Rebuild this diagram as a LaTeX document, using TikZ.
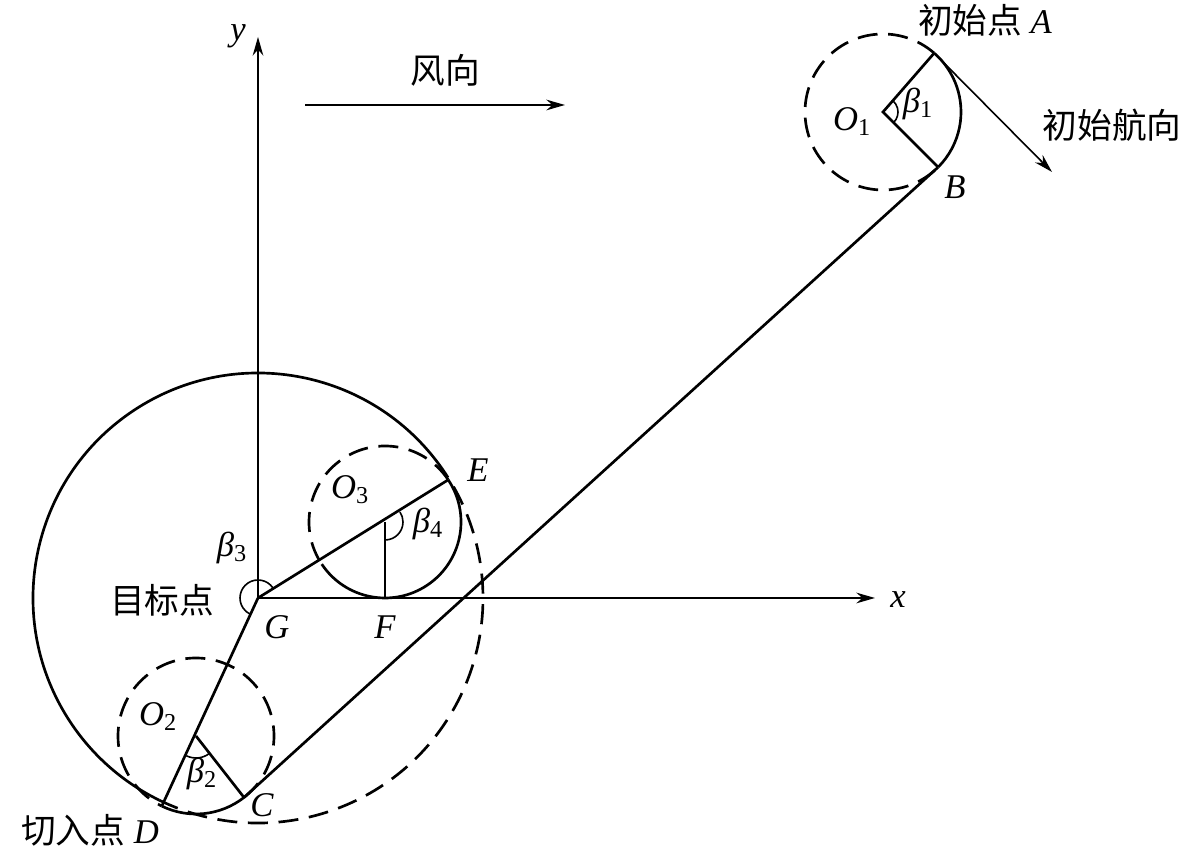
\documentclass[tikz,border=0pt]{standalone}
\usepackage{fontspec}
\setmainfont{Liberation Serif}
\newfontfamily\cjk{Noto Sans CJK SC}
\usetikzlibrary{arrows.meta,calc}
\begin{document}
\begin{tikzpicture}[x=0.75pt,y=0.75pt,
  thick line/.style={line width=2pt},
  dash line/.style={line width=2pt,dash pattern=on 15pt off 8pt},
  thin line/.style={line width=1.2pt},
  lab/.style={font=\fontsize{26}{30}\selectfont, inner sep=0pt},
  arr/.style={-{Stealth[length=14pt,width=8pt]}}]
\useasboundingbox (0,0) rectangle (1200,862);
\coordinate (G) at (258,264);
\coordinate (O1) at (883,750);
\coordinate (O2) at (196,126);
\coordinate (O3) at (385,340);
\coordinate (A) at ($(O1)+(49:78)$);
\coordinate (B) at ($(O1)+(-45:78)$);
\coordinate (C) at ($(O2)+(308:78)$);
\coordinate (D) at ($(O2)+(244:78)$);
\coordinate (E) at ($(O3)+(33.7:76)$);
\coordinate (F) at (385,264);
\coordinate (Xend) at (875,264);
\coordinate (Yend) at (258,825);
\coordinate (W1) at (305,757);
\coordinate (W2) at (565,757);
\coordinate (H) at (1052,690);
% axes
\draw[thin line,arr] (G) -- (Xend);
\draw[thin line,arr] (G) -- (Yend);
\draw[thin line,arr] (W1) -- (W2);
% circle O1
\draw[dash line] (A) arc[start angle=49,end angle=315,radius=78];
\draw[thick line] (A) arc[start angle=49,end angle=-45,radius=78];
\draw[thick line] (A) -- (O1) -- (B);
\draw[thin line] ($(O1)+(-45:15)$) arc[start angle=-45,end angle=49,radius=15];
\draw[thin line,arr] (A) -- (H);
% big circle
\draw[thick line] ($(G)+(33.7:225)$) arc[start angle=33.7,end angle=244,radius=225];
\draw[dash line] ($(G)+(244:225)$) arc[start angle=244,end angle=393.7,radius=225];
% circle O3
\draw[dash line] ($(O3)+(33.7:76)$) arc[start angle=33.7,end angle=213.7,radius=76];
\draw[thick line] ($(O3)+(213.7:76)$) arc[start angle=213.7,end angle=393.7,radius=76];
\draw[thick line] (G) -- (E);
\draw[thick line] (O3) -- (F);
\draw[thin line] ($(O3)+(270:18)$) arc[start angle=270,end angle=393.7,radius=18];
% circle O2
\draw[dash line] ($(O2)+(308:78)$) arc[start angle=308,end angle=604,radius=78];
\draw[thick line] (D) arc[start angle=244,end angle=308,radius=78];
\draw[thick line] (G) -- (D);
\draw[thick line] (O2) -- (C);
\draw[thin line] ($(O2)+(244:22)$) arc[start angle=244,end angle=308,radius=22];
% tangent
\draw[thick line] (C) -- (B);
% beta3
\draw[thin line] ($(G)+(33.7:18)$) arc[start angle=33.7,end angle=244,radius=18];
% labels
\node[lab] (ly) at (238,826) {\textit{y}};
\node[lab] (lx) at (898,262) {\textit{x}};
\node[lab] (lw) at (445,792) {\cjk 风向};
\node[lab] (lA) at (985,842) {{\cjk 初始点} \textit{A}};
\node[lab] (lH) at (1112,737) {\cjk 初始航向};
\node[lab] (lO1) at (852,740) {\textit{O}\textsubscript{1}};
\node[lab] (lb1) at (918,758) {\textit{β}\textsubscript{1}};
\node[lab] (lB) at (955,675) {\textit{B}};
\node[lab] (lE) at (478,392) {\textit{E}};
\node[lab] (lO3) at (350,372) {\textit{O}\textsubscript{3}};
\node[lab] (lb4) at (428,338) {\textit{β}\textsubscript{4}};
\node[lab] (lb3) at (232,314) {\textit{β}\textsubscript{3}};
\node[lab] (lG0) at (162,262) {\cjk 目标点};
\node[lab] (lG) at (277,235) {\textit{G}};
\node[lab] (lF) at (385,235) {\textit{F}};
\node[lab] (lO2) at (158,145) {\textit{O}\textsubscript{2}};
\node[lab] (lb2) at (202,88) {\textit{β}\textsubscript{2}};
\node[lab] (lC) at (262,57) {\textit{C}};
\node[lab] (lD) at (90,32) {{\cjk 切入点} \textit{D}};
\end{tikzpicture}
\end{document}
